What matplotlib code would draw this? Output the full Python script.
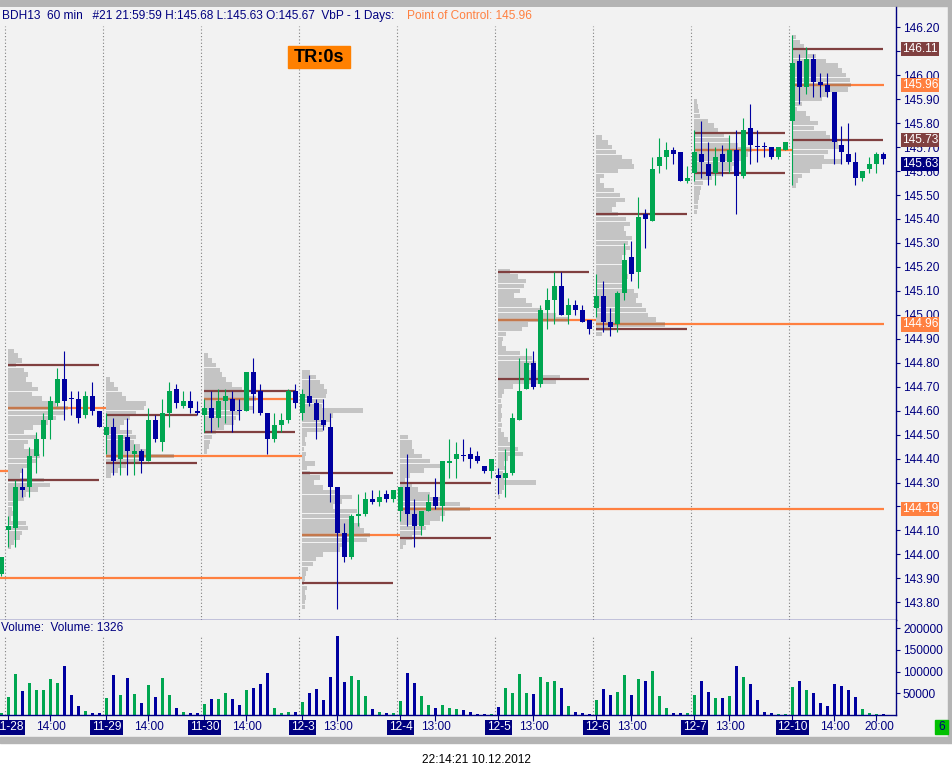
import numpy as np
import matplotlib
matplotlib.use("Agg")
import matplotlib.pyplot as plt
from matplotlib.patches import Rectangle
from matplotlib.transforms import blended_transform_factory

plt.rcParams["font.family"] = ["Liberation Sans", "DejaVu Sans"]

# 60 min bars, 14 per session; bar 0 is the last bar of 11-27
opens = [143.92,
         144.10, 144.11, 144.28, 144.28, 144.41, 144.48, 144.56, 144.63, 144.73, 144.65, 144.65, 144.58, 144.66, 144.60,
         144.50, 144.53, 144.40, 144.49, 144.42, 144.43, 144.39, 144.56, 144.47, 144.59, 144.69, 144.62, 144.64, 144.60,
         144.58, 144.61, 144.57, 144.64, 144.65, 144.60, 144.60, 144.76, 144.68, 144.59, 144.48, 144.54, 144.56, 144.68,
         144.59, 144.66, 144.63, 144.56, 144.53, 144.28, 144.09, 143.99, 144.16, 144.17, 144.23, 144.22, 144.25, 144.23,
         144.18, 144.28, 144.17, 144.12, 144.18, 144.24, 144.20, 144.38, 144.40, 144.41, 144.42, 144.41, 144.37, 144.35,
         144.33, 144.32, 144.34, 144.56, 144.69, 144.80, 144.71, 145.02, 145.06, 145.12, 145.00, 145.04, 145.02, 144.98,
         145.03, 145.08, 144.97, 144.96, 145.09, 145.24, 145.18, 145.42, 145.39, 145.62, 145.66, 145.69, 145.68, 145.56,
         145.59, 145.67, 145.63, 145.59, 145.67, 145.64, 145.69, 145.58, 145.78, 145.70, 145.70, 145.70, 145.66, 145.69,
         145.81, 146.06, 145.95, 146.07, 145.97, 145.96, 145.93, 145.71, 145.67, 145.64, 145.57, 145.61, 145.63, 145.67]
highs = [143.99,
         144.16, 144.31, 144.36, 144.45, 144.51, 144.59, 144.66, 144.78, 144.85, 144.68, 144.68, 144.68, 144.72, 144.60,
         144.59, 144.57, 144.50, 144.57, 144.46, 144.44, 144.61, 144.58, 144.65, 144.72, 144.71, 144.68, 144.68, 144.64,
         144.65, 144.68, 144.69, 144.69, 144.68, 144.65, 144.76, 144.82, 144.71, 144.59, 144.59, 144.59, 144.69, 144.71,
         144.69, 144.75, 144.65, 144.65, 144.59, 144.28, 144.13, 144.17, 144.25, 144.26, 144.27, 144.27, 144.27, 144.27,
         144.28, 144.42, 144.23, 144.18, 144.25, 144.32, 144.39, 144.48, 144.47, 144.48, 144.45, 144.43, 144.37, 144.40,
         144.36, 144.44, 144.59, 144.82, 144.86, 144.85, 145.04, 145.11, 145.18, 145.18, 145.07, 145.06, 145.04, 144.98,
         145.17, 145.14, 145.03, 145.10, 145.30, 145.31, 145.49, 145.44, 145.66, 145.74, 145.72, 145.70, 145.68, 145.62,
         145.77, 145.81, 145.72, 145.70, 145.71, 145.75, 145.77, 145.82, 145.88, 145.77, 145.72, 145.70, 145.70, 145.72,
         146.17, 146.09, 146.12, 146.09, 146.01, 146.01, 145.93, 145.79, 145.80, 145.68, 145.60, 145.66, 145.68, 145.68]
lows = [143.91,
        144.03, 144.03, 144.24, 144.24, 144.34, 144.41, 144.48, 144.62, 144.56, 144.58, 144.55, 144.57, 144.58, 144.53,
        144.42, 144.33, 144.33, 144.33, 144.33, 144.34, 144.39, 144.47, 144.43, 144.53, 144.61, 144.61, 144.59, 144.58,
        144.51, 144.51, 144.53, 144.55, 144.51, 144.56, 144.60, 144.59, 144.58, 144.42, 144.47, 144.51, 144.55, 144.61,
        144.56, 144.62, 144.48, 144.52, 144.22, 143.77, 143.97, 143.98, 144.12, 144.16, 144.21, 144.20, 144.22, 144.22,
        144.14, 144.12, 144.03, 144.08, 144.18, 144.19, 144.14, 144.32, 144.32, 144.39, 144.36, 144.38, 144.34, 144.32,
        144.25, 144.24, 144.33, 144.56, 144.69, 144.69, 144.70, 144.94, 144.96, 145.00, 144.96, 145.00, 144.97, 144.92,
        144.99, 144.93, 144.91, 144.93, 145.06, 145.14, 145.11, 145.28, 145.39, 145.59, 145.61, 145.63, 145.56, 145.55,
        145.56, 145.57, 145.54, 145.54, 145.58, 145.59, 145.42, 145.57, 145.63, 145.64, 145.66, 145.65, 145.65, 145.69,
        145.54, 145.88, 145.92, 145.91, 145.91, 145.91, 145.63, 145.63, 145.63, 145.54, 145.56, 145.59, 145.59, 145.63]
closes = [143.99,
          144.12, 144.28, 144.27, 144.41, 144.48, 144.56, 144.64, 144.73, 144.64, 144.65, 144.57, 144.66, 144.60, 144.53,
          144.53, 144.39, 144.50, 144.43, 144.43, 144.39, 144.56, 144.48, 144.59, 144.68, 144.63, 144.64, 144.61, 144.59,
          144.61, 144.57, 144.64, 144.66, 144.60, 144.60, 144.76, 144.67, 144.59, 144.48, 144.54, 144.56, 144.68, 144.63,
          144.67, 144.63, 144.56, 144.54, 144.28, 144.09, 143.99, 144.16, 144.17, 144.23, 144.22, 144.24, 144.23, 144.27,
          144.28, 144.17, 144.12, 144.18, 144.22, 144.20, 144.39, 144.39, 144.42, 144.41, 144.40, 144.39, 144.35, 144.40,
          144.32, 144.34, 144.57, 144.68, 144.80, 144.70, 145.02, 145.06, 145.12, 145.00, 145.04, 145.02, 144.97, 144.94,
          145.08, 144.97, 144.95, 145.09, 145.23, 145.17, 145.41, 145.40, 145.61, 145.66, 145.69, 145.67, 145.56, 145.57,
          145.68, 145.64, 145.58, 145.66, 145.64, 145.69, 145.58, 145.77, 145.71, 145.70, 145.70, 145.66, 145.70, 145.72,
          146.05, 145.95, 146.07, 145.97, 145.96, 145.93, 145.72, 145.68, 145.64, 145.57, 145.60, 145.63, 145.67, 145.65]
volumes = [4600,
           41500, 94600, 55400, 73800, 57700, 57700, 83000, 73800, 113000, 46000, 20800, 9200, 4600, 4600,
           40000, 92300, 46000, 85400, 48500, 27700, 69200, 41500, 85400, 46000, 16000, 6900, 4600, 4600,
           25400, 36900, 36900, 50800, 36900, 23000, 57700, 62300, 71500, 96900, 16000, 4600, 6900, 6900,
           30000, 50800, 60000, 34600, 87700, 182000, 76200, 90000, 80800, 43800, 13800, 6900, 4600, 4600,
           33000, 96900, 73800, 43800, 23000, 16000, 23000, 16000, 13800, 11500, 6900, 2300, 2300, 2300,
           18500, 62300, 50800, 94600, 50800, 48500, 87700, 76200, 78500, 62300, 20800, 6900, 4600, 2300,
           34600, 60000, 46000, 53000, 92300, 46000, 83000, 78500, 101500, 43800, 16000, 4600, 4600, 4600,
           46000, 78500, 53000, 39200, 39200, 43800, 113000, 87700, 71500, 34600, 6900, 4600, 2300, 2300,
           64600, 78500, 57700, 50800, 27700, 20800, 71500, 66900, 57700, 41500, 13800, 4600, 2300, 1326]

sessions = ["11-28", "11-29", "11-30", "12-3", "12-4", "12-5", "12-6", "12-7", "12-10"]
session_start = [1, 15, 29, 43, 57, 71, 85, 99, 113]
time_labels = ["14:00", "14:00", "14:00", "13:00", "13:00", "13:00", "13:00", "13:00", "14:00", "20:00"]
time_bars = [7, 21, 35, 48, 62, 76, 90, 104, 119, 125]

# volume by price, one row every 0.02 from the top price down
vap_top = [144.85, 144.73, 144.83, 144.76, 144.49, 145.18, 145.74, 145.89, 146.16]
vap = [
    [6, 10, 14, 8, 16, 20, 18, 24, 30, 24, 34, 48, 60, 56, 48, 40, 25, 16, 28, 20, 16, 26, 32, 28, 22, 14, 12,
     36, 42, 30, 18, 16, 6, 4, 6, 3, 18, 20, 14, 12, 6, 3],
    [4, 8, 12, 16, 20, 40, 38, 30, 24, 18, 14, 26, 30, 28, 34, 40, 68, 34, 20, 12, 5],
    [4, 8, 12, 16, 18, 22, 28, 38, 42, 52, 44, 50, 36, 32, 30, 20, 12, 8, 6, 5, 3],
    [8, 14, 18, 22, 25, 24, 22, 20, 61, 31, 28, 24, 21, 5, 3, 4, 2, 4, 3, 13, 5, 8, 18, 12, 21, 35, 50, 40, 31,
     55, 48, 52, 58, 62, 68, 65, 45, 38, 21, 14, 11, 6, 4, 3, 2, 5, 3, 4, 3, 3],
    [8, 12, 12, 14, 22, 30, 42, 24, 10, 5, 12, 18, 30, 45, 60, 70, 45, 40, 30, 26, 22, 12, 6, 3],
    [12, 20, 28, 26, 22, 16, 28, 34, 44, 58, 70, 30, 24, 8, 5, 4, 8, 22, 34, 38, 30, 40, 62, 58, 15, 6, 4, 3,
     4, 3, 4, 3, 4, 3, 6, 10, 14, 20, 25, 10, 6, 8, 5, 6, 38, 6, 4, 2],
    [6, 12, 16, 20, 26, 36, 38, 22, 8, 4, 8, 18, 24, 29, 20, 16, 22, 30, 34, 28, 30, 36, 32, 34, 30, 26, 30, 28,
     26, 32, 30, 26, 38, 42, 40, 46, 50, 52, 60, 69, 14, 6],
    [3, 4, 5, 6, 14, 20, 24, 30, 36, 44, 58, 54, 50, 44, 38, 28, 18, 9, 7, 6, 5, 4, 4, 3],
    [4, 8, 12, 16, 24, 34, 46, 50, 54, 58, 59, 56, 36, 30, 10, 5, 14, 18, 26, 22, 34, 38, 46, 50, 36, 32, 50,
     30, 18, 10, 6, 4],
]
vah = [144.79, 144.58, 144.68, 144.34, 144.30, 145.18, 145.42, 145.76, 146.11]
val = [144.31, 144.38, 144.51, 143.88, 144.07, 144.73, 144.94, 145.59, 145.73]
poc = [144.61, 144.41, 144.65, 144.08, 144.19, 144.98, 144.96, 145.69, 145.96]
poc_end = [14.9, 42.9, 41.7, 56.9, 126.1, 84.9, 126.1, 112.9, 126.1]
old_poc = [143.90, 144.35]
old_poc_end = [42.9, 0.93]

axis_boxes = [146.11, 145.96, 145.73, 145.63, 144.96, 144.19]
axis_box_kind = ["va", "poc", "va", "last", "poc", "poc"]

UP = "#00A651"
DOWN = "#0000A0"
NAVY = "#000080"
BG = "#F2F2F2"
PROFILE = "#C4C4C4"
BROWN = "#804040"
ORANGE = "#FF8040"
box_colors = {"va": BROWN, "poc": ORANGE, "last": NAVY}

W, H = 952, 777


def frac(x0, y0, x1, y1):
    return [x0 / W, 1 - y1 / H, (x1 - x0) / W, (y1 - y0) / H]


fig = plt.figure(figsize=(W / 100, H / 100), dpi=100, facecolor="white")
for (x0, y0, x1, y1), c in [((0, 0, 948, 737), BG), ((0, 737, 948, 743), "#B4B4B4"),
                            ((0, 0, 952, 6), "#B4B4B4"), ((948, 0, 952, 743), "#B4B4B4")]:
    fig.patches.append(Rectangle((x0 / W, 1 - y1 / H), (x1 - x0) / W, (y1 - y0) / H,
                                 transform=fig.transFigure, color=c, zorder=-10))

ax = fig.add_axes(frac(0, 7, 896, 620))
axv = fig.add_axes(frac(0, 620, 896, 715))
for a in (ax, axv):
    a.set_facecolor(BG)
    a.set_xlim(-0.214, 127.786)
    for s in ("top", "left"):
        a.spines[s].set_visible(False)
    for s in ("right", "bottom"):
        a.spines[s].set_color(NAVY)
        a.spines[s].set_linewidth(1)
    a.yaxis.tick_right()
    a.tick_params(axis="y", direction="out", length=3, width=0.8, color=NAVY,
                  labelcolor=NAVY, labelsize=8.6, pad=2)
ax.set_ylim(143.726, 146.285)
axv.set_ylim(0, 219000)

x = np.arange(len(opens))
o = np.array(opens)
c = np.array(closes)
colors = [UP if cc > oo else DOWN for oo, cc in zip(o, c)]

# session separators
for s0 in session_start:
    ax.axvline(s0 - 0.5, ymax=0.969, color="#808080", ls=(0, (1, 2)), lw=0.8, zorder=0.5)
    axv.axvline(s0 - 0.5, ymax=0.842, color="#808080", ls=(0, (1, 2)), lw=0.8, zorder=0.5)

# volume profiles and value area lines
for k, s0 in enumerate(session_start):
    w = np.array(vap[k]) / 7.0
    rows = vap_top[k] - 0.02 * np.arange(len(w))
    left = s0 - 0.07
    ax.barh(rows, w, left=left, height=0.0185, color=PROFILE, linewidth=0, zorder=1)
    ax.hlines([vah[k], val[k]], left, s0 + 13, color=BROWN, lw=1.6, zorder=2)
    ax.hlines(poc[k], left, poc_end[k], color=ORANGE, lw=1.6, zorder=2)
    ax.hlines(poc[k], left, left + w.max(), color="#C4784C", lw=1.6, zorder=2.1)
for p, e in zip(old_poc, old_poc_end):
    ax.hlines(p, -1, e, color=ORANGE, lw=1.6, zorder=2)

# candles
ax.vlines(x, lows, highs, colors=colors, lw=0.8, zorder=3)
ax.bar(x, np.maximum(np.abs(c - o), 0.004), bottom=np.minimum(o, c), width=0.71,
       color=colors, linewidth=0, zorder=3.1)
ax.set_yticks(np.round(np.arange(143.8, 146.21, 0.1), 2))
ax.set_yticklabels([f"{v:.2f}" for v in np.arange(143.8, 146.21, 0.1)])
ax.tick_params(axis="x", bottom=False, labelbottom=False)

for p, kind in zip(axis_boxes, axis_box_kind):
    ax.annotate(f"{p:.2f}", xy=(1, p), xycoords=("axes fraction", "data"), xytext=(4.2, 0),
                textcoords="offset points", ha="left", va="center", fontsize=8.6, color="white",
                bbox=dict(boxstyle="square,pad=0.1", fc=box_colors[kind], ec="none"),
                annotation_clip=False, zorder=5)

# volume panel
axv.bar(x, volumes, width=0.57, color=colors, linewidth=0, zorder=2)
axv.set_yticks([50000, 100000, 150000, 200000])
axv.set_yticklabels(["50000", "100000", "150000", "200000"])
axv.set_xticks(session_start + time_bars)
axv.tick_params(axis="x", direction="out", length=4, width=0.8, color=NAVY, labelbottom=False)

# header and labels
fig.text(2 / W, 1 - 16 / H, "BDH13  60 min   #21 21:59:59 H:145.68 L:145.63 O:145.67  VbP - 1 Days:",
         color=NAVY, fontsize=8.6, va="center")
fig.text(407 / W, 1 - 16 / H, "Point of Control: 145.96", color=ORANGE, fontsize=8.6, va="center")
fig.patches.append(Rectangle((288 / W, 1 - 68 / H), 62 / W, 22 / H, transform=fig.transFigure,
                             color="#FF8000", zorder=5))
fig.text(319 / W, 1 - 57 / H, "TR:0s", color="black", fontsize=13, weight="bold",
         ha="center", va="center", zorder=6)
fig.text(1 / W, 1 - 628 / H, "Volume:  Volume: 1326", color=NAVY, fontsize=8.6, va="center")

tr = blended_transform_factory(axv.transData, fig.transFigure)
for name, s0 in zip(sessions, session_start):
    fig.text(s0, 1 - 727.5 / H, name, transform=tr, ha="center", va="center", color="white",
             fontsize=8.6, bbox=dict(boxstyle="square,pad=0.15", fc=NAVY, ec="none"))
for name, b in zip(time_labels, time_bars):
    # the last label sits a little right of its tick, as in the source chart
    xb = b + 0.45 if name == "20:00" else b
    fig.text(xb, 1 - 727.5 / H, name, transform=tr, ha="center", va="center", color=NAVY, fontsize=8.6)

fig.patches.append(Rectangle((935 / W, 1 - 734 / H), 13 / W, 14 / H, transform=fig.transFigure,
                             color="#00C000", zorder=5))
fig.text(941.5 / W, 1 - 727 / H, "6", color=NAVY, fontsize=8.6, ha="center", va="center", zorder=6)
fig.text(476 / W, 1 - 760 / H, "22:14:21 10.12.2012", color="black", fontsize=8.6,
         ha="center", va="center")

fig.savefig("out.png", dpi=100, facecolor=fig.get_facecolor())
